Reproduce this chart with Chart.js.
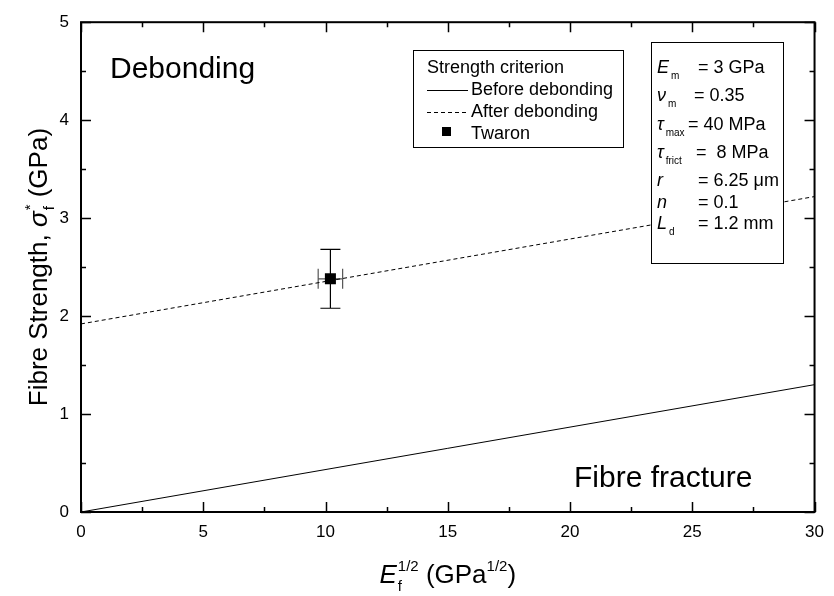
<!DOCTYPE html>
<html>
<head>
<meta charset="utf-8">
<script src="https://cdn.jsdelivr.net/npm/chart.js@4.4.1/dist/chart.umd.min.js"></script>
<style>
  html, body { margin: 0; padding: 0; background: #fff; }
  canvas { display: block; }
</style>
</head>
<body>
<canvas id="chart" width="834" height="596"></canvas>
<script>
// ---- data ----
const sqrtModulus    = [0, 30];        // E_f^1/2 (GPa^1/2)
const strengthBefore = [0, 1.30];      // sigma_f* before debonding (GPa)
const strengthAfter  = [1.92, 3.22];   // sigma_f* after debonding (GPa)
const twaronX    = [10.2];
const twaronY    = [2.38];
const twaronXErr = [0.5];
const twaronYErr = [0.30];
const xTicks = [0, 5, 10, 15, 20, 25, 30];
const yTicks = [0, 1, 2, 3, 4, 5];
const seriesLabels = ['Before debonding', 'After debonding', 'Twaron'];
const legendTitle = 'Strength criterion';
const paramSymbols = ['E', 'ν', 'τ', 'τ', 'r', 'n', 'L'];
const paramSubs    = ['m', 'm', 'max', 'frict', '', '', 'd'];
const paramValues  = ['= 3 GPa', '= 0.35', '= 40 MPa', '=  8 MPa', '= 6.25 μm', '= 0.1', '= 1.2 mm'];
const regionLabels = ['Debonding', 'Fibre fracture'];

const FONT = '"Liberation Sans", Arial, Helvetica, sans-serif';

function fnt(size, italic) {
  return (italic ? 'italic ' : '') + size + 'px ' + FONT;
}

// draws a run of text pieces; a piece with sub/sup stacks both at the same x
function drawRun(ctx, pieces, x, y, measureOnly) {
  let cx = x;
  for (const p of pieces) {
    if (p.stack) {
      let w = 0;
      for (const s of p.stack) {
        ctx.font = fnt(s.size, s.italic);
        if (!measureOnly) ctx.fillText(s.t, cx + (s.dx || 0), y + s.dy);
        w = Math.max(w, ctx.measureText(s.t).width + (s.dx || 0));
      }
      cx += w;
    } else {
      ctx.font = fnt(p.size, p.italic);
      if (!measureOnly) ctx.fillText(p.t, cx, y + (p.dy || 0));
      cx += ctx.measureText(p.t).width;
    }
  }
  return cx - x;
}

const decorations = {
  id: 'decorations',
  beforeDatasetsDraw(chart) {
    const ctx = chart.ctx;
    const xs = chart.scales.x, ys = chart.scales.y;
    ctx.save();
    // error bars of the Twaron point
    for (let i = 0; i < twaronX.length; i++) {
      const px = xs.getPixelForValue(twaronX[i]);
      const py = ys.getPixelForValue(twaronY[i]);
      const yTop = ys.getPixelForValue(twaronY[i] + twaronYErr[i]);
      const yBot = ys.getPixelForValue(twaronY[i] - twaronYErr[i]);
      const xL = xs.getPixelForValue(twaronX[i] - twaronXErr[i]);
      const xR = xs.getPixelForValue(twaronX[i] + twaronXErr[i]);
      ctx.strokeStyle = '#000';
      ctx.lineWidth = 1.2;
      ctx.beginPath();
      ctx.moveTo(px, yTop); ctx.lineTo(px, yBot);
      ctx.moveTo(px - 10, yTop); ctx.lineTo(px + 10, yTop);
      ctx.moveTo(px - 10, yBot); ctx.lineTo(px + 10, yBot);
      ctx.stroke();
      ctx.strokeStyle = '#555';
      ctx.beginPath();
      ctx.moveTo(xL, py); ctx.lineTo(xR, py);
      ctx.moveTo(xL, py - 10); ctx.lineTo(xL, py + 10);
      ctx.moveTo(xR, py - 10); ctx.lineTo(xR, py + 10);
      ctx.stroke();
    }
    ctx.restore();
  },
  afterDraw(chart) {
    const ctx = chart.ctx;
    const xs = chart.scales.x, ys = chart.scales.y;
    const { left, right, top, bottom } = chart.chartArea;
    ctx.save();
    ctx.fillStyle = '#000';
    ctx.strokeStyle = '#000';

    // inward ticks on all four sides (major + one minor between)
    ctx.lineWidth = 1.5;
    ctx.beginPath();
    const xStep = xTicks[1] - xTicks[0];
    for (let v = xTicks[0]; v <= xTicks[xTicks.length - 1] + 1e-9; v += xStep / 2) {
      const major = Math.abs(v / xStep - Math.round(v / xStep)) < 1e-6;
      const len = major ? 10 : 5;
      const px = Math.round(xs.getPixelForValue(v)) + 0.5;
      ctx.moveTo(px, bottom); ctx.lineTo(px, bottom - len);
      ctx.moveTo(px, top); ctx.lineTo(px, top + len);
    }
    const yStep = yTicks[1] - yTicks[0];
    for (let v = yTicks[0]; v <= yTicks[yTicks.length - 1] + 1e-9; v += yStep / 2) {
      const major = Math.abs(v / yStep - Math.round(v / yStep)) < 1e-6;
      const len = major ? 10 : 5;
      const py = Math.round(ys.getPixelForValue(v)) + 0.5;
      ctx.moveTo(left, py); ctx.lineTo(left + len, py);
      ctx.moveTo(right, py); ctx.lineTo(right - len, py);
    }
    ctx.stroke();

    // frame
    ctx.lineWidth = 2;
    ctx.strokeRect(left, top, right - left, bottom - top);

    // region labels
    ctx.textBaseline = 'alphabetic';
    ctx.textAlign = 'left';
    ctx.font = fnt(30);
    ctx.fillText(regionLabels[0], 110, 78);
    ctx.fillText(regionLabels[1], 574, 487);

    // legend box
    ctx.fillStyle = '#fff';
    ctx.fillRect(413, 50, 210, 97);
    ctx.lineWidth = 1;
    ctx.strokeRect(413.5, 50.5, 210, 97);
    ctx.fillStyle = '#000';
    ctx.font = fnt(18);
    ctx.fillText(legendTitle, 427, 73);
    const ds = chart.data.datasets;
    const rows = [95, 117, 139];
    for (let i = 0; i < ds.length; i++) {
      const yb = rows[i];
      if (ds[i].showLine) {
        ctx.save();
        ctx.lineWidth = ds[i].borderWidth;
        ctx.setLineDash(ds[i].borderDash || []);
        ctx.beginPath();
        ctx.moveTo(427, yb - 4.5); ctx.lineTo(468, yb - 4.5);
        ctx.stroke();
        ctx.restore();
      } else {
        ctx.fillRect(442, yb - 12, 9, 9);
      }
      ctx.font = fnt(18);
      ctx.fillText(ds[i].label, 471, yb);
    }

    // parameter box
    ctx.fillStyle = '#fff';
    ctx.fillRect(651, 42, 132, 221);
    ctx.strokeRect(651.5, 42.5, 132, 221);
    ctx.fillStyle = '#000';
    const pBase = [73, 101, 130, 158, 186, 208, 229];
    const pValX = [698, 694, 688, 696, 698, 698, 698];
    for (let i = 0; i < paramSymbols.length; i++) {
      ctx.font = fnt(18, true);
      ctx.fillText(paramSymbols[i], 657, pBase[i]);
      const w = ctx.measureText(paramSymbols[i]).width;
      if (paramSubs[i]) {
        ctx.font = fnt(10);
        ctx.fillText(paramSubs[i], 657 + w + 2, pBase[i] + 6);
      }
      ctx.font = fnt(18);
      ctx.fillText(paramValues[i], pValX[i], pBase[i]);
    }

    // x axis title: E_f^1/2 (GPa^1/2)
    const xTitle = [
      { t: 'E', size: 26, italic: true },
      { stack: [ { t: 'f', size: 15, dy: 8, dx: 1 }, { t: '1/2', size: 15, dy: -12, dx: 1 } ] },
      { t: ' (GPa', size: 26 },
      { t: '1/2', size: 15, dy: -12 },
      { t: ')', size: 26 }
    ];
    const xw = drawRun(ctx, xTitle, 0, 0, true);
    drawRun(ctx, xTitle, (left + right) / 2 - xw / 2, 583);

    // y axis title: Fibre Strength, sigma_f^* (GPa)
    const yTitle = [
      { t: 'Fibre Strength, ', size: 26 },
      { t: 'σ', size: 26, italic: true },
      { stack: [ { t: 'f', size: 15, dy: 7, dx: 1 }, { t: '*', size: 15, dy: -12, dx: 1 } ] },
      { t: ' (GPa)', size: 26 }
    ];
    const yw = drawRun(ctx, yTitle, 0, 0, true);
    ctx.translate(47, (top + bottom) / 2 + yw / 2);
    ctx.rotate(-Math.PI / 2);
    drawRun(ctx, yTitle, 0, 0);

    ctx.restore();
  }
};

new Chart(document.getElementById('chart'), {
  type: 'scatter',
  data: {
    datasets: [
      {
        label: seriesLabels[0],
        data: sqrtModulus.map((x, i) => ({ x, y: strengthBefore[i] })),
        showLine: true, borderColor: '#000', borderWidth: 1,
        pointRadius: 0, fill: false
      },
      {
        label: seriesLabels[1],
        data: sqrtModulus.map((x, i) => ({ x, y: strengthAfter[i] })),
        showLine: true, borderColor: '#000', borderWidth: 1, borderDash: [4, 3],
        pointRadius: 0, fill: false
      },
      {
        label: seriesLabels[2],
        data: twaronX.map((x, i) => ({ x, y: twaronY[i] })),
        showLine: false, pointStyle: 'rect', pointRadius: 7.8,
        backgroundColor: '#000', borderColor: '#000', borderWidth: 0
      }
    ]
  },
  options: {
    responsive: false,
    animation: false,
    devicePixelRatio: 1,
    layout: { padding: { left: 0, top: 21, right: 12, bottom: 0 } },
    plugins: { legend: { display: false }, tooltip: { enabled: false } },
    scales: {
      x: {
        type: 'linear', min: xTicks[0], max: xTicks[xTicks.length - 1],
        afterBuildTicks: s => { s.ticks = xTicks.map(v => ({ value: v })); },
        afterFit: s => { s.height = 84; },
        grid: { display: false, drawTicks: false },
        border: { display: false },
        ticks: { color: '#000', font: { family: FONT, size: 17 }, padding: 10, maxRotation: 0 }
      },
      y: {
        type: 'linear', min: yTicks[0], max: yTicks[yTicks.length - 1],
        afterBuildTicks: s => { s.ticks = yTicks.map(v => ({ value: v })); },
        afterFit: s => { s.width = 81; },
        grid: { display: false, drawTicks: false },
        border: { display: false },
        ticks: { color: '#000', font: { family: FONT, size: 17 }, padding: 12 }
      }
    }
  },
  plugins: [decorations]
});
</script>
</body>
</html>
